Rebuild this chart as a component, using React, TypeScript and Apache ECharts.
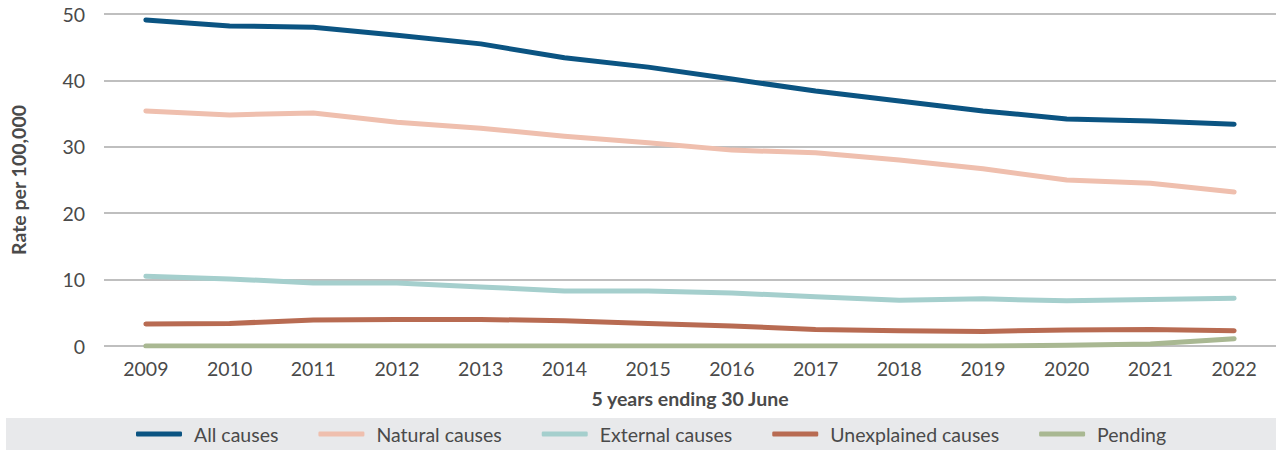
import React, { useEffect, useRef } from "react";
import * as echarts from "echarts";

const years = ["2009", "2010", "2011", "2012", "2013", "2014", "2015", "2016", "2017", "2018", "2019", "2020", "2021", "2022"];
const allCauses = [49.1, 48.2, 48.0, 46.8, 45.5, 43.4, 42.0, 40.2, 38.4, 36.9, 35.4, 34.2, 33.9, 33.4];
const naturalCauses = [35.4, 34.8, 35.1, 33.7, 32.8, 31.6, 30.6, 29.5, 29.1, 28.0, 26.7, 25.0, 24.5, 23.2];
const externalCauses = [10.5, 10.1, 9.5, 9.5, 8.9, 8.3, 8.3, 8.0, 7.4, 6.9, 7.1, 6.8, 7.0, 7.2];
const unexplainedCauses = [3.3, 3.4, 3.9, 4.0, 4.0, 3.8, 3.4, 3.0, 2.5, 2.3, 2.2, 2.4, 2.5, 2.3];
const pending = [0, 0, 0, 0, 0, 0, 0, 0, 0, 0, 0, 0.1, 0.3, 1.1];

const seriesNames = ["All causes", "Natural causes", "External causes", "Unexplained causes", "Pending"];
const seriesData = [allCauses, naturalCauses, externalCauses, unexplainedCauses, pending];
const seriesColors = ["#0b5482", "#efbfae", "#a5cfcd", "#b86b52", "#a9b892"];

const FONT = "Lato";
const TEXT = "#4a4a4a";

export default function App() {
  const ref = useRef<HTMLDivElement>(null);
  useEffect(() => {
    if (!ref.current) return;
    const chart = echarts.init(ref.current, undefined, { renderer: "svg" });
    chart.setOption({
      animation: false,
      textStyle: { fontFamily: FONT },
      graphic: [
        {
          type: "rect",
          z: -1,
          shape: { x: 6, y: 418, width: 1270, height: 32 },
          style: { fill: "#e8e9eb" },
        },
      ],
      legend: {
        top: 419,
        left: 131,
        itemWidth: 46,
        itemHeight: 5,
        itemGap: 40,
        icon: "roundRect",
        textStyle: { color: TEXT, fontSize: 19.5, fontFamily: FONT, padding: [0, 0, 0, 7] },
        data: seriesNames,
      },
      grid: { left: 96, right: 0, top: 14, bottom: 104, containLabel: false },
      xAxis: {
        type: "category",
        data: years,
        boundaryGap: true,
        name: "5 years ending 30 June",
        nameLocation: "middle",
        nameGap: 42,
        nameTextStyle: { color: TEXT, fontSize: 19.5, fontWeight: "bold", fontFamily: FONT },
        axisLine: { show: false },
        axisTick: { show: false },
        axisLabel: { color: TEXT, fontSize: 19.5, margin: 12, fontFamily: FONT },
      },
      yAxis: {
        type: "value",
        min: 0,
        max: 50,
        interval: 10,
        name: "Rate per 100,000",
        nameLocation: "middle",
        nameRotate: 90,
        nameGap: 76,
        nameTextStyle: { color: TEXT, fontSize: 19.5, fontWeight: "bold", fontFamily: FONT },
        axisLine: { show: false },
        axisTick: { show: false },
        axisLabel: { color: TEXT, fontSize: 19.5, margin: 19, fontFamily: FONT },
        splitLine: { lineStyle: { color: "#aaaaaa", width: 1.5 } },
      },
      series: seriesNames.map((name, i) => ({
        name,
        type: "line",
        data: seriesData[i],
        showSymbol: false,
        symbol: "none",
        color: seriesColors[i],
        lineStyle: { width: 5, color: seriesColors[i], cap: "round", join: "round" },
        z: 10 - i,
      })),
    });
    return () => chart.dispose();
  }, []);
  return <div ref={ref} style={{ position: "absolute", left: 0, top: 0, width: 1276, height: 450 }} />;
}
